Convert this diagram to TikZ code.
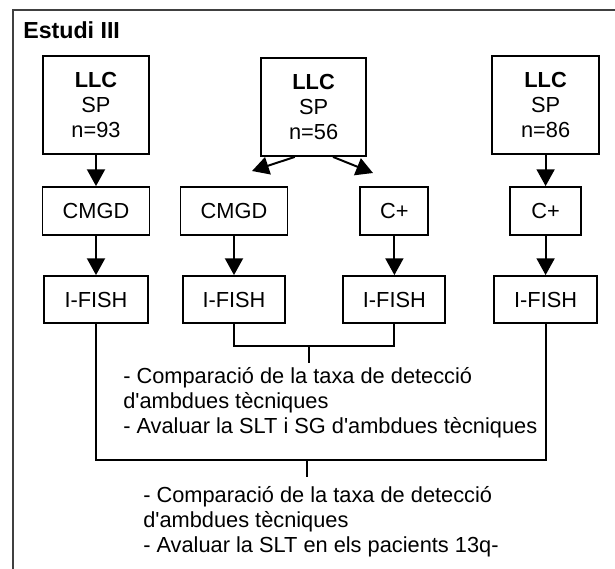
\documentclass[tikz,border=0pt]{standalone}
\usepackage{fontspec}
\setmainfont{Liberation Sans}
\usetikzlibrary{arrows.meta}

\begin{document}
\begin{tikzpicture}[
 box/.style={draw,line width=1.3pt,inner sep=0pt,align=center,font=\fontsize{15.5}{17.8}\selectfont},
 note/.style={align=left,inner sep=0pt,anchor=west,font=\fontsize{15.5}{17.8}\selectfont},
 arr/.style={line width=1.4pt,-{Triangle[length=0.42cm,width=0.45cm]}},
 link/.style={line width=1.3pt}]
 \useasboundingbox (0,0) rectangle (15.375,-14.225);
 \draw[black!75,line width=1.5pt] (15.375,-0.25) -- (0.325,-0.25) -- (0.325,-14.225);
 \node[note,font=\fontsize{16.5}{17.8}\selectfont\bfseries] (title) at (0.575,-0.75) {Estudi III};
 \node[box,minimum width=2.65cm,minimum height=2.45cm] (llc1) at (2.4,-2.625) {\textbf{LLC}\\SP\\n=93};
 \node[box,minimum width=2.625cm,minimum height=2.45cm] (llc2) at (7.84,-2.675) {\textbf{LLC}\\SP\\n=56};
 \node[box,minimum width=2.675cm,minimum height=2.45cm] (llc3) at (13.64,-2.625) {\textbf{LLC}\\SP\\n=86};
 \node[box,minimum width=2.675cm,minimum height=1.2cm] (cmgd1) at (2.4,-5.275) {CMGD};
 \node[box,minimum width=2.675cm,minimum height=1.2cm] (cmgd2) at (5.85,-5.275) {CMGD};
 \node[box,minimum width=1.7cm,minimum height=1.2cm] (cp1) at (9.86,-5.275) {C+};
 \node[box,minimum width=1.775cm,minimum height=1.2cm] (cp2) at (13.64,-5.275) {C+};
 \node[box,minimum width=2.6cm,minimum height=1.175cm] (if1) at (2.4,-7.4875) {I-FISH};
 \node[box,minimum width=2.55cm,minimum height=1.175cm] (if2) at (5.85,-7.4875) {I-FISH};
 \node[box,minimum width=2.55cm,minimum height=1.175cm] (if3) at (9.86,-7.4875) {I-FISH};
 \node[box,minimum width=2.575cm,minimum height=1.175cm] (if4) at (13.64,-7.4875) {I-FISH};
 \coordinate (tl) at (6.3,-4.275);
 \coordinate (tr) at (9.325,-4.325);
 \draw[arr] (llc1) -- (cmgd1);
 \draw[arr] (llc3) -- (cp2);
 \draw[arr] ([xshift=-0.47cm]llc2.south) -- (tl);
 \draw[arr] ([xshift=0.485cm]llc2.south) -- (tr);
 \draw[arr] (cmgd1) -- (if1);
 \draw[arr] (cmgd2) -- (if2);
 \draw[arr] (cp1) -- (if3);
 \draw[arr] (cp2) -- (if4);
 \coordinate (mb) at (7.725,-8.65);
 \draw[link] (if2.south) -- (if2.south |- mb) -| (if3.south);
 \draw[link] (mb) -- ++(0,-0.425);
 \node[note] (txt1) at (3.075,-10.075) {- Comparació de la taxa de detecció\\d\textquotesingle ambdues tècniques\\- Avaluar la SLT i SG d\textquotesingle ambdues tècniques};
 \coordinate (bb) at (7.675,-11.5);
 \draw[link] (if1.south) -- (if1.south |- bb) -| (if4.south);
 \draw[link] (bb) -- ++(0,-0.425);
 \node[note] (txt2) at (3.575,-13.05) {- Comparació de la taxa de detecció\\d\textquotesingle ambdues tècniques\\- Avaluar la SLT en els pacients 13q-};
\end{tikzpicture}
\end{document}
